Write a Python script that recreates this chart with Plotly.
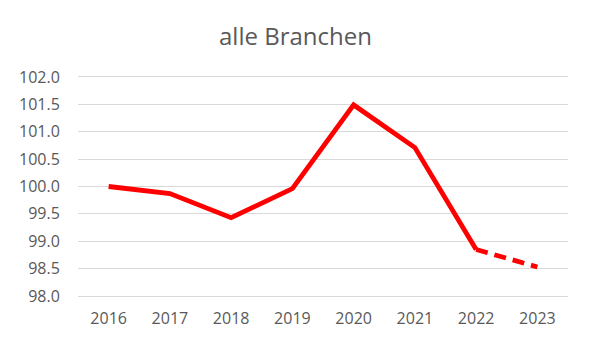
import plotly.graph_objects as go

years = ["2016", "2017", "2018", "2019", "2020", "2021", "2022", "2023"]
values = [100.0, 99.87, 99.43, 99.96, 101.49, 100.71, 98.85, 98.53]
solid_n = 7  # 2016-2022 solid, 2022-2023 dashed
y_ticks = [98.0, 98.5, 99.0, 99.5, 100.0, 100.5, 101.0, 101.5, 102.0]

fig = go.Figure()
fig.add_trace(go.Scatter(x=years[:solid_n], y=values[:solid_n], mode="lines",
                         line=dict(color="#FF0000", width=4.8), hoverinfo="skip"))
fig.add_trace(go.Scatter(x=years[solid_n - 1:], y=values[solid_n - 1:], mode="lines",
                         line=dict(color="#FF0000", width=4.8, dash="12px,7px"), hoverinfo="skip"))

FONT = "Open Sans, Liberation Sans, sans-serif"
fig.update_layout(
    width=591, height=344,
    margin=dict(l=78, r=23, t=77, b=48),
    paper_bgcolor="white", plot_bgcolor="white",
    showlegend=False,
    title=dict(text="alle Branchen", x=0.5, xanchor="center", y=0.893, yanchor="middle",
               font=dict(family=FONT, size=24, color="#595959")),
    font=dict(family=FONT, size=16, color="#595959"),
)
fig.update_xaxes(type="category", categoryorder="array", categoryarray=years,
                 range=[-0.5, len(years) - 0.5],
                 showgrid=False, showline=True, mirror=True, linecolor="#D9D9D9", linewidth=1,
                 ticks="outside", ticklen=8, tickcolor="rgba(0,0,0,0)",
                 tickfont=dict(size=16, color="#595959"))
fig.update_yaxes(range=[98, 102], tickvals=y_ticks,
                 ticktext=[f"{v:.1f}" for v in y_ticks],
                 showgrid=True, gridcolor="#D9D9D9", gridwidth=1,
                 zeroline=False, showline=False,
                 ticks="outside", ticklen=14, tickcolor="rgba(0,0,0,0)",
                 tickfont=dict(size=16, color="#595959"))

fig.write_html("out.html")
